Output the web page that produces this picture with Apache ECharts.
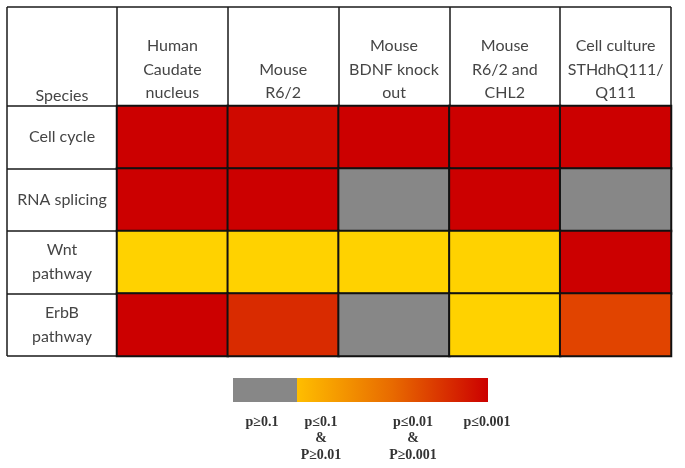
<!DOCTYPE html>
<html>
<head>
<meta charset="utf-8">
<script src="https://cdn.jsdelivr.net/npm/echarts@6/dist/echarts.min.js"></script>
<style>html,body{margin:0;padding:0;background:#fff}#c{width:685px;height:468px}</style>
</head>
<body>
<div id="c"></div>
<script>
// Columns (species / models)
var columns = ['Human\nCaudate\nnucleus', 'Mouse\nR6/2', 'Mouse\nBDNF knock\nout', 'Mouse\nR6/2 and\nCHL2', 'Cell culture\nSTHdhQ111/\nQ111'];
// Rows (pathways)
var rows = ['Cell cycle', 'RNA splicing', 'Wnt\npathway', 'ErbB\npathway'];
// Significance score per cell: 0 = p>=0.1 (grey), 1 = p~0.1, 2 = p~0.01, 3 = p<=0.001
var cellCycle   = [3, 2.9, 3, 3, 3];
var rnaSplicing = [3, 3, 0, 3, 0];
var wntPathway  = [1, 1, 1, 1, 3];
var erbbPathway = [3, 2.5, 0, 1, 2.2];
var legendLabels = ['p\u22650.1', 'p\u22640.1\n&\nP\u22650.01', 'p\u22640.01\n&\nP\u22650.001', 'p\u22640.001'];

var matrix = [cellCycle, rnaSplicing, wntPathway, erbbPathway];
var data = [];
matrix.forEach(function (row, r) {
  row.forEach(function (v, c) { data.push([c, r, v]); });
});

var L = 117, T = 106, R = 671, B = 356, OUT = 7;
var lineCol = '#1a1a1a';
var textCol = '#454545';
var font = 'Lato';

var chart = echarts.init(document.getElementById('c'));
var legX0 = 233, legXg = 297, legX1 = 488, legY = 378, legH = 24;
var lx = [262, 321, 413, 487];
var graphics = [
  {type: 'line', shape: {x1: OUT, y1: OUT, x2: R, y2: OUT}, style: {stroke: lineCol, lineWidth: 1.5}},
  {type: 'line', shape: {x1: OUT, y1: OUT, x2: OUT, y2: B}, style: {stroke: lineCol, lineWidth: 1.5}},
  {type: 'text', x: (OUT + L) / 2, y: 96, style: {text: 'Species', fill: textCol, font: '16px ' + font, textAlign: 'center', textVerticalAlign: 'middle'}},
  {type: 'rect', shape: {x: legX0, y: legY, width: legXg - legX0, height: legH}, style: {fill: '#878787'}},
  {type: 'rect', shape: {x: legXg, y: legY, width: legX1 - legXg, height: legH},
   style: {fill: new echarts.graphic.LinearGradient(0, 0, 1, 0, [
     {offset: 0, color: '#FFBE00'}, {offset: 0.5, color: '#E86A00'}, {offset: 1, color: '#CC0000'}])}}
];
legendLabels.forEach(function (t, i) {
  graphics.push({type: 'text', x: lx[i], y: 414, style: {text: t, fill: '#333', font: 'bold 14px "Liberation Serif"', textAlign: 'center', textVerticalAlign: 'top', lineHeight: 16.5}});
});

chart.setOption({
  animation: false,
  backgroundColor: '#fff',
  grid: {left: L, top: T, right: 685 - R, bottom: 468 - B},
  xAxis: {
    type: 'category', position: 'top', data: columns,
    axisLine: {show: true, lineStyle: {color: lineCol, width: 1.5}},
    axisTick: {show: true, interval: 0, length: T - OUT, lineStyle: {color: lineCol, width: 1.5}},
    axisLabel: {interval: 0, margin: 1, color: textCol, fontFamily: font, fontSize: 16, lineHeight: 23.5},
    splitLine: {show: false}
  },
  yAxis: {
    type: 'category', inverse: true, data: rows,
    axisLine: {show: true, lineStyle: {color: lineCol, width: 1.5}},
    axisTick: {show: true, interval: 0, length: L - OUT, lineStyle: {color: lineCol, width: 1.5}},
    axisLabel: {interval: 0, align: 'center', margin: (L - OUT) / 2, color: textCol, fontFamily: font, fontSize: 16, lineHeight: 24, padding: [4, 0, 0, 0]},
    splitLine: {show: false}
  },
  visualMap: {
    show: false, type: 'continuous', min: 0, max: 3, range: [1, 3], seriesIndex: 0,
    inRange: {color: ['#FFD200', '#FFD200', '#E65500', '#CC0000']},
    outOfRange: {color: '#878787'}
  },
  series: [{
    type: 'heatmap', data: data,
    itemStyle: {borderColor: '#111', borderWidth: 2},
    emphasis: {disabled: true}
  }],
  graphic: graphics
});
</script>
</body>
</html>
